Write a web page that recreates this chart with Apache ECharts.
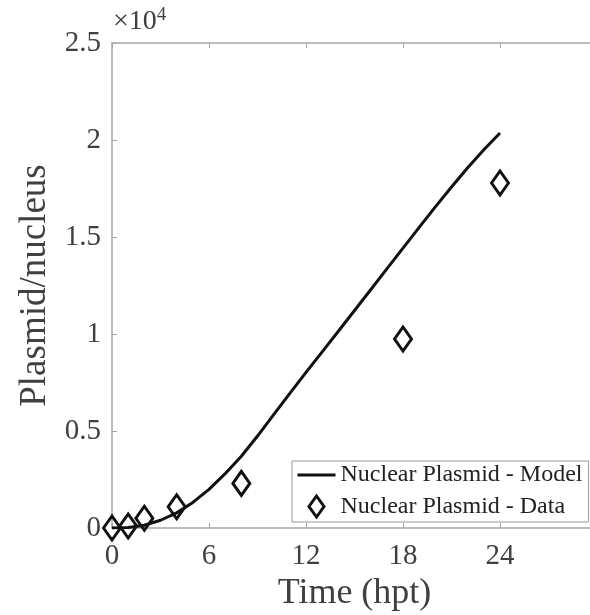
<!DOCTYPE html>
<html lang="en">
  <head>
    <meta charset="UTF-8" />
    <script src="https://cdn.jsdelivr.net/npm/echarts@6/dist/echarts.min.js"></script>
    <title>Nuclear plasmid</title>
    <style>
      html, body { margin: 0; padding: 0; background: #fff; }
      #app { width: 590px; height: 615px; }
    </style>
  </head>
  <body>
    <div id="app"></div>
    <script>
      // model curve (hpt vs plasmid/nucleus)
      const modelTime = [0, 1, 2, 3, 4, 5, 6, 7, 8, 9, 10, 11, 12, 13, 14, 15, 16, 17, 18, 19, 20, 21, 22, 23, 24];
      const modelValue = [0, 30, 140, 400, 780, 1320, 1990, 2800, 3700, 4740, 5840, 6940, 8020, 9080, 10140, 11210, 12280, 13360, 14430, 15500, 16550, 17580, 18570, 19500, 20360];
      // measured points
      const dataTime = [0, 1, 2, 4, 8, 18, 24];
      const dataValue = [0, 100, 500, 1100, 2300, 9740, 17780];

      const xTicks = [0, 6, 12, 18, 24];
      const yTickLabels = ["0", "0.5", "1", "1.5", "2", "2.5"];

      const font = "'Liberation Serif', 'DejaVu Serif', serif";
      const axisGray = "#a6a6a6";
      const textGray = "#404040";
      const diamond = "path://M0,-10L7,0L0,10L-7,0Z";
      // icons padded with empty moves so they are not stretched to the item box
      const lineIcon = "path://M0,0M38,24M0,10.5L38,10.5L38,13.5L0,13.5Z";
      const diamondIcon = "path://M0,0M38,24M19,1.5L26.5,12L19,22.5L11.5,12Z";

      const echart = echarts.init(document.getElementById("app"));

      echart.setOption({
        animation: false,
        backgroundColor: "#fff",
        textStyle: { fontFamily: font },
        grid: { left: 112, right: -7, top: 43, bottom: 87, outerBoundsMode: "none", containLabel: false },
        legend: {
          orient: "vertical",
          left: 292,
          top: 461,
          padding: [2, 6, 2, 4],
          itemGap: 6,
          itemWidth: 38,
          itemHeight: 24,
          borderColor: "#999",
          borderWidth: 1,
          backgroundColor: "#fff",
          textStyle: { fontFamily: font, fontSize: 24, color: "#222" },
          data: [
            { name: "Nuclear Plasmid - Model", icon: lineIcon, itemStyle: { color: "#111", borderWidth: 0 } },
            {
              name: "Nuclear Plasmid - Data",
              icon: diamondIcon,
              itemStyle: { color: "rgba(0,0,0,0)", borderColor: "#111", borderWidth: 3, opacity: 1 },
            },
          ],
        },
        graphic: [
          {
            type: "text",
            left: 113,
            top: 6,
            style: {
              text: "{a|×10}{b|4}",
              rich: {
                a: { fontFamily: font, fontSize: 28, fill: textGray },
                b: { fontFamily: font, fontSize: 19, fill: textGray, verticalAlign: "top", padding: [0, 0, 12, 0] },
              },
            },
          },
        ],
        xAxis: [
          {
            type: "value",
            min: 0,
            max: 30,
            interval: 6,
            name: "Time (hpt)",
            nameLocation: "middle",
            nameGap: 42,
            nameTextStyle: { fontFamily: font, fontSize: 36, color: textGray },
            axisLine: { lineStyle: { color: axisGray, width: 1.5 } },
            axisTick: { inside: true, length: 5, lineStyle: { color: axisGray } },
            axisLabel: {
              margin: 14,
              fontFamily: font,
              fontSize: 29,
              color: textGray,
              formatter: (v) => (xTicks.includes(v) ? String(v) : ""),
            },
            splitLine: { show: false },
          },
          {
            type: "value",
            position: "top",
            min: 0,
            max: 30,
            interval: 6,
            axisLine: { show: true, lineStyle: { color: axisGray, width: 1.5 } },
            axisTick: { show: true, inside: true, length: 5, lineStyle: { color: axisGray } },
            axisLabel: { show: false },
            splitLine: { show: false },
          },
        ],
        yAxis: {
          type: "value",
          min: 0,
          max: 25000,
          interval: 5000,
          name: "Plasmid/nucleus",
          nameLocation: "middle",
          nameGap: 52,
          nameTextStyle: { fontFamily: font, fontSize: 37, color: textGray },
          axisLine: { show: true, lineStyle: { color: axisGray, width: 1.5 } },
          axisTick: { show: true, inside: true, length: 5, lineStyle: { color: axisGray } },
          axisLabel: {
            margin: 11,
            fontFamily: font,
            fontSize: 29,
            color: textGray,
            formatter: (v) => yTickLabels[Math.round(v / 5000)],
          },
          splitLine: { show: false },
        },
        series: [
          {
            name: "Nuclear Plasmid - Model",
            type: "line",
            data: modelTime.map((t, i) => [t, modelValue[i]]),
            smooth: false,
            symbol: "none",
            lineStyle: { color: "#111", width: 3, join: "round" },
            itemStyle: { color: "#111" },
            z: 2,
          },
          {
            name: "Nuclear Plasmid - Data",
            type: "scatter",
            data: dataTime.map((t, i) => [t, dataValue[i]]),
            symbol: diamond,
            symbolSize: [17, 24],
            clip: false,
            itemStyle: { color: "rgba(0,0,0,0)", borderColor: "#111", borderWidth: 3, opacity: 1 },
            z: 3,
          },
        ],
      });
    </script>
  </body>
</html>
